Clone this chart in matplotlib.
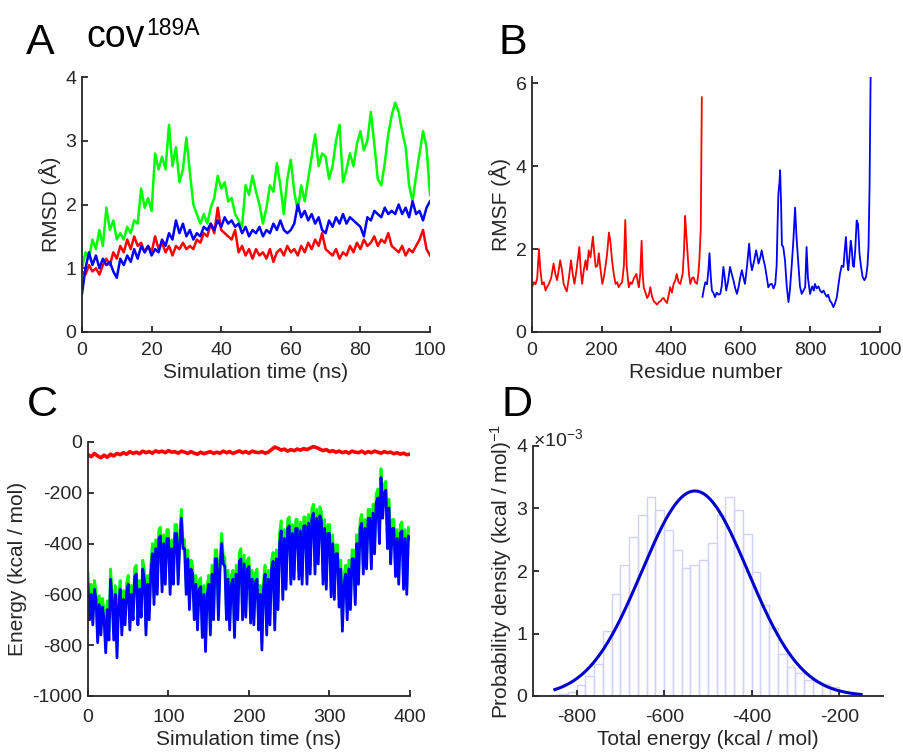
import numpy as np
import matplotlib
matplotlib.use("Agg")
import matplotlib.pyplot as plt

plt.rcParams['font.family'] = ['Liberation Sans', 'DejaVu Sans']
plt.rcParams['mathtext.fontset'] = 'custom'
plt.rcParams['mathtext.rm'] = 'Liberation Sans'
plt.rcParams['mathtext.it'] = 'Liberation Sans:italic'
plt.rcParams['axes.unicode_minus'] = False

# ---------------- Panel A: RMSD (1 ns sampling) ----------------
rmsd_time = list(range(0, 101))
rmsd_green = [1.0, 1.25, 1.15, 1.45, 1.3, 1.6, 1.35, 1.95, 1.6, 1.75,
              1.45, 1.55, 1.45, 1.65, 1.55, 1.75, 1.7, 2.25, 1.95, 2.1,
              1.9, 2.8, 2.55, 2.75, 2.55, 3.25, 2.6, 2.9, 2.35, 2.55,
              3.05, 2.5, 2.0, 1.85, 1.7, 1.85, 1.7, 1.95, 2.1, 2.45,
              2.25, 2.35, 2.05, 2.1, 1.85, 1.75, 1.65, 2.3, 2.15, 2.45,
              2.2, 2.0, 1.7, 1.95, 2.3, 2.2, 2.65, 2.3, 1.85, 2.4,
              2.7, 2.2, 1.9, 2.3, 2.05, 2.4, 2.75, 3.1, 2.6, 2.8,
              2.75, 2.4, 2.6, 3.0, 3.25, 2.35, 2.55, 2.8, 2.6, 2.95,
              3.15, 2.85, 3.0, 3.45, 2.95, 2.4, 2.3, 2.65, 3.1, 3.4,
              3.6, 3.45, 3.15, 2.9, 2.3, 2.05, 2.45, 2.8, 3.15, 2.9,
              2.15]
rmsd_red = [0.95, 0.9, 1.05, 0.95, 1.0, 0.9, 1.05, 1.15, 1.05, 1.25,
            1.15, 1.35, 1.25, 1.45, 1.3, 1.5, 1.35, 1.4, 1.25, 1.35,
            1.25, 1.5, 1.3, 1.4, 1.25, 1.35, 1.2, 1.35, 1.3, 1.4,
            1.3, 1.35, 1.3, 1.45, 1.4, 1.55, 1.5, 1.7, 1.55, 1.95,
            1.6, 1.55, 1.5, 1.45, 1.6, 1.25, 1.35, 1.2, 1.3, 1.15,
            1.3, 1.2, 1.25, 1.15, 1.3, 1.1, 1.25, 1.3, 1.2, 1.35,
            1.25, 1.3, 1.2, 1.35, 1.25, 1.4, 1.3, 1.45, 1.35, 1.55,
            1.3, 1.25, 1.2, 1.3, 1.15, 1.25, 1.2, 1.35, 1.25, 1.4,
            1.3, 1.45, 1.35, 1.4, 1.5, 1.35, 1.45, 1.4, 1.55, 1.35,
            1.3, 1.25, 1.35, 1.2, 1.3, 1.25, 1.35, 1.45, 1.6, 1.3,
            1.2]
rmsd_blue = [0.6, 1.0, 1.25, 1.05, 1.2, 1.0, 1.15, 1.05, 1.1, 0.95,
             0.85, 1.15, 1.05, 1.2, 1.1, 1.3, 1.15, 1.35, 1.25, 1.35,
             1.2, 1.3, 1.25, 1.45, 1.35, 1.55, 1.45, 1.75, 1.55, 1.7,
             1.5, 1.6, 1.45, 1.55, 1.5, 1.65, 1.6, 1.7, 1.6, 1.75,
             1.65, 1.8, 1.7, 1.75, 1.65, 1.7, 1.55, 1.65, 1.5, 1.6,
             1.55, 1.65, 1.5, 1.6, 1.55, 1.7, 1.6, 1.75, 1.6, 1.55,
             1.6, 1.7, 2.0, 1.8, 1.9, 1.75, 1.85, 1.7, 1.8, 1.6,
             1.55, 1.75, 1.65, 1.8, 1.7, 1.85, 1.7, 1.8, 1.75, 1.7,
             1.65, 1.5, 1.8, 1.75, 1.9, 1.85, 1.8, 1.95, 1.85, 1.9,
             1.85, 2.0, 1.85, 1.95, 1.8, 2.05, 1.85, 1.9, 1.75, 1.95,
             2.05]

# ---------------- Panel B: RMSF ----------------
rmsf_red_res = [1, 5, 10, 15, 20, 24, 29, 34, 39, 44, 48, 55, 62, 67, 72, 77, 81, 86, 91, 96,
                100, 106, 112, 117, 122, 128, 136, 140, 144, 149, 154, 158, 163, 168, 175, 179,
                183, 188, 192, 197, 202, 206, 211, 216, 221, 225, 230, 235, 240, 245, 249, 254,
                259, 264, 268, 272, 278, 283, 287, 293, 300, 304, 307, 311, 315, 318, 321, 326,
                331, 336, 340, 345, 350, 355, 359, 364, 369, 374, 378, 383, 388, 393, 397, 402,
                407, 412, 416, 421, 426, 430, 433, 437, 440, 443, 447, 451, 455, 460, 464, 469,
                474, 478, 481, 485, 488]
rmsf_red = [1.1, 1.2, 1.15, 1.3, 2.0, 1.5, 1.15, 1.2, 1.0, 1.1, 1.15, 1.3, 1.65, 1.4, 1.25, 1.5,
            1.73, 1.5, 1.16, 1.05, 0.98, 1.3, 1.73, 1.4, 1.16, 1.5, 2.05, 1.5, 1.16, 1.5, 1.73,
            1.5, 1.97, 1.8, 2.3, 1.9, 1.57, 1.6, 1.9, 1.5, 1.16, 1.3, 1.57, 1.9, 2.4, 2.2, 1.73,
            1.4, 1.16, 1.2, 1.08, 1.15, 1.2, 1.6, 2.7, 1.6, 1.08, 1.2, 1.16, 1.3, 1.4, 1.2, 1.08,
            1.4, 2.2, 1.4, 1.08, 0.95, 0.82, 0.9, 1.08, 0.85, 0.74, 0.7, 0.66, 0.72, 0.74, 0.8,
            0.82, 0.75, 0.7, 0.9, 1.08, 0.95, 1.16, 1.25, 1.4, 1.2, 1.16, 1.3, 1.4, 2.0, 2.8,
            2.4, 1.9, 1.4, 1.16, 1.3, 1.32, 1.2, 1.16, 1.4, 1.73, 2.5, 5.66]
rmsf_blue_res = [490, 493, 498, 503, 507, 510, 514, 517, 521, 526, 531, 536, 541, 545, 550, 554,
                 558, 563, 569, 574, 579, 584, 589, 594, 598, 603, 608, 612, 618, 624, 628, 632,
                 638, 644, 648, 651, 656, 660, 665, 670, 675, 679, 684, 689, 694, 699, 703, 706,
                 708, 711, 713, 716, 718, 722, 727, 732, 737, 741, 746, 751, 756, 760, 766, 770,
                 775, 780, 785, 789, 793, 799, 805, 810, 813, 818, 823, 828, 833, 838, 842, 847,
                 851, 856, 861, 866, 871, 876, 880, 885, 890, 895, 898, 902, 906, 909, 913, 916,
                 919, 922, 925, 929, 933, 937, 941, 945, 950, 955, 960, 964, 967, 970, 973]
rmsf_blue = [0.85, 1.0, 1.2, 1.15, 1.5, 1.9, 1.3, 1.0, 0.95, 0.84, 0.95, 0.9, 0.92, 1.1, 1.57,
             1.3, 1.0, 1.2, 1.57, 1.4, 1.24, 1.05, 0.92, 1.1, 1.3, 1.49, 1.3, 1.16, 1.6, 2.13,
             1.7, 1.49, 1.7, 1.97, 1.8, 1.65, 1.8, 1.97, 1.75, 1.57, 1.3, 1.08, 1.15, 1.16, 1.05,
             1.16, 1.6, 2.7, 3.33, 3.6, 3.9, 3.0, 2.1, 2.05, 1.73, 1.1, 0.72, 1.0, 1.57, 2.2, 3.0,
             2.3, 1.57, 1.1, 0.92, 1.0, 1.08, 2.05, 1.3, 0.92, 1.1, 1.0, 1.16, 1.05, 1.1, 1.0,
             0.95, 1.0, 0.92, 0.85, 0.9, 0.76, 0.7, 0.6, 0.7, 0.84, 1.1, 1.4, 1.6, 1.57, 1.9,
             2.29, 1.7, 1.49, 1.9, 2.2, 2.0, 1.6, 1.57, 2.0, 2.69, 2.6, 1.9, 1.6, 1.33, 1.25,
             1.33, 1.6, 2.05, 3.5, 6.14]

# ---------------- Panel C: energy (2 ns sampling) ----------------
energy_time = list(range(0, 401, 2))
energy_blue = [-560, -700, -600, -720, -580, -620, -790, -640, -760, -650,
               -700, -830, -660, -780, -540, -620, -780, -600, -850, -640,
               -580, -760, -620, -720, -590, -560, -740, -600, -700, -530,
               -520, -720, -580, -690, -500, -540, -760, -560, -700, -520,
               -440, -640, -420, -600, -380, -370, -590, -400, -560, -380,
               -380, -600, -420, -560, -360, -360, -560, -400, -300, -420,
               -420, -600, -460, -660, -500, -520, -700, -560, -740, -580,
               -570, -770, -600, -825, -600, -560, -760, -520, -700, -460,
               -460, -700, -500, -400, -480, -490, -700, -540, -740, -560,
               -540, -770, -520, -700, -470, -460, -700, -480, -690, -500,
               -490, -713, -540, -720, -550, -540, -740, -600, -819, -580,
               -520, -760, -540, -720, -500, -470, -740, -460, -660, -400,
               -350, -620, -380, -580, -340, -330, -560, -360, -540, -340,
               -340, -540, -350, -560, -330, -330, -560, -320, -520, -300,
               -280, -520, -300, -480, -290, -310, -560, -340, -580, -360,
               -360, -610, -400, -620, -440, -440, -650, -500, -745, -560,
               -520, -700, -500, -660, -460, -460, -640, -400, -560, -340,
               -320, -520, -340, -500, -300, -300, -500, -280, -440, -240,
               -220, -400, -140, -300, -200, -190, -420, -260, -480, -340,
               -340, -530, -380, -560, -360, -350, -580, -380, -600, -370,
               -380]
energy_green = [-515, -670, -560, -690, -545, -585, -760, -605, -730, -615,
                -660, -800, -625, -750, -500, -585, -750, -565, -820, -605,
                -545, -730, -585, -690, -555, -525, -710, -565, -670, -495,
                -485, -690, -545, -660, -465, -500, -730, -525, -670, -485,
                -400, -610, -385, -570, -345, -335, -560, -365, -530, -345,
                -345, -570, -385, -530, -325, -325, -530, -365, -265, -385,
                -385, -570, -425, -630, -465, -485, -670, -525, -710, -545,
                -535, -740, -565, -795, -565, -525, -730, -485, -670, -425,
                -425, -670, -465, -360, -445, -455, -670, -505, -710, -525,
                -505, -740, -485, -670, -435, -420, -670, -445, -660, -465,
                -455, -683, -505, -690, -515, -500, -710, -565, -790, -545,
                -485, -730, -505, -690, -465, -435, -710, -425, -630, -360,
                -310, -590, -345, -550, -305, -295, -530, -325, -510, -305,
                -305, -510, -315, -530, -295, -295, -530, -285, -490, -265,
                -245, -490, -265, -450, -255, -275, -530, -305, -550, -325,
                -325, -580, -365, -590, -405, -405, -620, -465, -715, -525,
                -485, -670, -465, -630, -425, -425, -610, -365, -530, -305,
                -285, -490, -305, -470, -265, -265, -470, -245, -410, -205,
                -185, -370, -105, -270, -165, -155, -390, -225, -450, -305,
                -305, -500, -345, -530, -325, -315, -550, -345, -570, -335,
                -345]
energy_red_time = list(range(0, 401, 4))
energy_red = [-50, -58, -45, -55, -62, -52, -60, -48, -55, -45,
              -50, -42, -48, -38, -45, -40, -46, -36, -42, -38,
              -44, -35, -40, -36, -42, -34, -40, -38, -44, -36,
              -40, -45, -38, -44, -48, -40, -46, -42, -38, -45,
              -40, -44, -36, -42, -38, -45, -40, -35, -42, -38,
              -44, -36, -40, -42, -38, -44, -40, -30, -20, -25,
              -32, -28, -36, -30, -34, -28, -32, -26, -30, -24,
              -18, -22, -28, -34, -30, -38, -34, -40, -36, -42,
              -38, -44, -36, -40, -42, -36, -44, -38, -42, -36,
              -40, -44, -38, -42, -40, -46, -42, -48, -44, -50,
              -48]

# ---------------- Panel D: histogram + normal fit ----------------
hist_left_edges = list(range(-860, -200, 20))
hist_density_e3 = [0.01, 0.03, 0.07, 0.17, 0.32, 0.52, 1.04, 1.63, 2.1, 2.55, 2.9,
                   3.18, 2.98, 2.65, 2.33, 2.05, 2.09, 2.18, 2.45, 2.9, 3.18, 2.98,
                   2.6, 1.99, 1.45, 1.09, 0.68, 0.46, 0.37, 0.26, 0.22, 0.19, 0.15]
fit_mu = -530.0
fit_sigma = 121.6
fit_range = (-850, -150)

# ================= drawing =================
W, H = 904, 755
fig = plt.figure(figsize=(W / 100, H / 100), dpi=100)

def rect(l, t, r, b):
    return [l / W, 1 - b / H, (r - l) / W, (b - t) / H]

AX = '#262626'
TICK_FS = 14
LAB_FS = 15

def style(ax, xpad=7):
    for s in ['top', 'right']:
        ax.spines[s].set_visible(False)
    for s in ['left', 'bottom']:
        ax.spines[s].set_color(AX)
        ax.spines[s].set_linewidth(1.3)
    ax.tick_params(direction='in', length=4, width=1.3, colors=AX,
                   labelsize=TICK_FS)
    ax.tick_params(axis='x', pad=xpad)
    ax.tick_params(axis='y', pad=4)

# A
axA = fig.add_axes(rect(82, 77, 430, 332))
axA.plot(rmsd_time, rmsd_green, color=(0, 1, 0), lw=1.8)
axA.plot(rmsd_time, rmsd_red, color=(1, 0, 0), lw=1.8)
axA.plot(rmsd_time, rmsd_blue, color=(0, 0, 1), lw=1.8)
axA.set_xlim(0, 100)
axA.set_ylim(0, 4)
axA.set_xticks(range(0, 101, 20))
axA.set_yticks(range(0, 5))
axA.set_xlabel('Simulation time (ns)', fontsize=LAB_FS, color=AX, labelpad=3)
axA.set_ylabel('RMSD (Å)', fontsize=LAB_FS, color=AX, labelpad=3)
style(axA)

# B
axB = fig.add_axes(rect(532, 77, 880, 332))
axB.plot(rmsf_red_res, rmsf_red, color=(1, 0, 0), lw=1.3)
axB.plot(rmsf_blue_res, rmsf_blue, color=(0, 0, 1), lw=1.3)
axB.set_xlim(0, 1000)
axB.set_ylim(0, 6.15)
axB.set_xticks(range(0, 1001, 200))
axB.set_yticks([0, 2, 4, 6])
axB.set_xlabel('Residue number', fontsize=LAB_FS, color=AX, labelpad=3)
axB.set_ylabel('RMSF (Å)', fontsize=LAB_FS, color=AX, labelpad=3)
style(axB)

# C
axC = fig.add_axes(rect(88, 442, 410, 696))
axC.plot(energy_time, energy_green, color=(0, 1, 0), lw=2.0)
axC.plot(energy_time, energy_blue, color=(0, 0, 1), lw=2.0)
axC.plot(energy_red_time, energy_red, color=(1, 0, 0), lw=2.6)
axC.set_xlim(0, 400)
axC.set_ylim(-1000, 0)
axC.set_xticks(range(0, 401, 100))
axC.set_yticks(range(-1000, 1, 200))
axC.set_xlabel('Simulation time (ns)', fontsize=LAB_FS, color=AX, labelpad=3)
axC.set_ylabel('Energy (kcal / mol)', fontsize=LAB_FS, color=AX, labelpad=4)
style(axC, xpad=9)

# D
axD = fig.add_axes(rect(533, 446, 883, 696))
axD.bar(hist_left_edges, hist_density_e3, width=20, align='edge',
        facecolor=(1, 1, 1, 0.0), edgecolor=(0.82, 0.82, 0.98), linewidth=1.0)
xs = np.linspace(fit_range[0], fit_range[1], 300)
pdf = 1e3 / (fit_sigma * np.sqrt(2 * np.pi)) * np.exp(-0.5 * ((xs - fit_mu) / fit_sigma) ** 2)
axD.plot(xs, pdf, color=(0, 0, 0.8), lw=2.2)
axD.set_xlim(-900, -100)
axD.set_ylim(0, 4)
axD.set_xticks([-800, -600, -400, -200])
axD.set_yticks(range(0, 5))
axD.set_xlabel('Total energy (kcal / mol)', fontsize=LAB_FS, color=AX, labelpad=3)
axD.set_ylabel('Probability density (kcal / mol)$^{-1}$', fontsize=LAB_FS, color=AX, labelpad=2)
style(axD, xpad=9)
axD.text(0.0, 0.985, r'$\times$10$^{-3}$', transform=axD.transAxes, fontsize=14,
         color=AX, ha='left', va='bottom')

# panel letters
fig.text(26 / W, 1 - 54 / H, 'A', fontsize=31, color='black')
fig.text(86 / W, 1 - 47 / H, 'cov', fontsize=27, color='black')
fig.text(146 / W, 1 - 35 / H, '189A', fontsize=16.5, color='black')
fig.text(499 / W, 1 - 54 / H, 'B', fontsize=31, color='black')
fig.text(27 / W, 1 - 416 / H, 'C', fontsize=31, color='black')
fig.text(502 / W, 1 - 416 / H, 'D', fontsize=31, color='black')

fig.savefig('out.png', dpi=100)
